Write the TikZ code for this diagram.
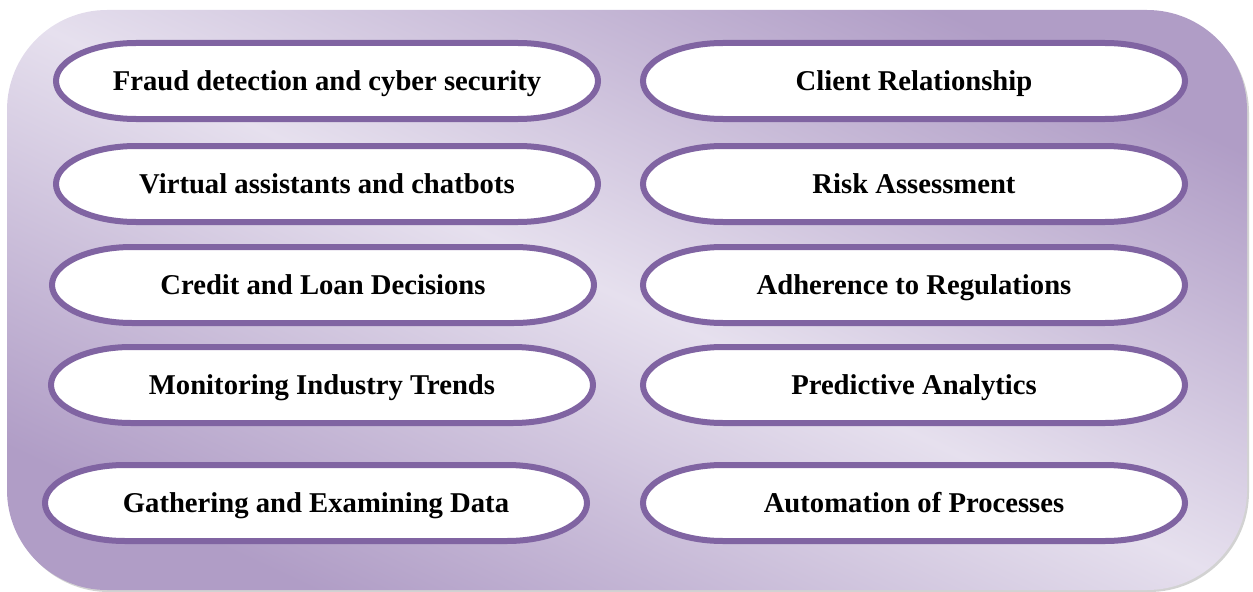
\documentclass[tikz,border=0pt]{standalone}
\usepackage{fontspec}
\setmainfont{Liberation Serif}
\usetikzlibrary{calc}
\definecolor{lavdark}{HTML}{B09DC6}
\definecolor{lavlight}{HTML}{E6E0EE}
\definecolor{pillpurple}{HTML}{8064A2}
% flat-topped oval with elliptical ends, label on top
\newcommand\pill[3]{{%
  \filldraw[pill,shift={(#2)}] (-191,38) -- (191,38)
      arc[start angle=90,end angle=-90,x radius=80,y radius=38] -- (-191,-38)
      arc[start angle=-90,end angle=-270,x radius=80,y radius=38] -- cycle;
  \node[pilltext] (#1) at ($(#2)+(0,-9)$) {#3};}}

\begin{document}
\begin{tikzpicture}[x=0.75pt,y=0.75pt,
  pill/.style={draw=pillpurple,fill=white,line width=4.5pt},
  pilltext/.style={font=\fontsize{21.5}{25}\selectfont\bfseries,inner sep=0,anchor=base}]
\useasboundingbox (0,0) rectangle (1253,-592);
% ---------- panel ----------
\fill[gray!70,opacity=0.5,rounded corners=75] (9,-13) rectangle (1249,-592);
\shade[rounded corners=75,left color=lavdark,right color=lavdark,middle color=lavlight,
       shading angle=-25] (7,-10) rectangle (1247,-590);
% ---------- left column ----------
\pill{fraud}{327,-81}{Fraud detection and cyber security}
\pill{virtual}{327,-184}{Virtual assistants and chatbots}
\pill{credit}{323,-285}{Credit and Loan Decisions}
\pill{trends}{322,-385}{Monitoring Industry Trends}
\pill{data}{316,-503}{Gathering and Examining Data}
% ---------- right column ----------
\pill{client}{914,-81}{Client Relationship}
\pill{risk}{914,-184}{Risk Assessment}
\pill{regs}{914,-285}{Adherence to Regulations}
\pill{predict}{914,-385}{Predictive Analytics}
\pill{auto}{914,-503}{Automation of Processes}
\end{tikzpicture}
\end{document}
